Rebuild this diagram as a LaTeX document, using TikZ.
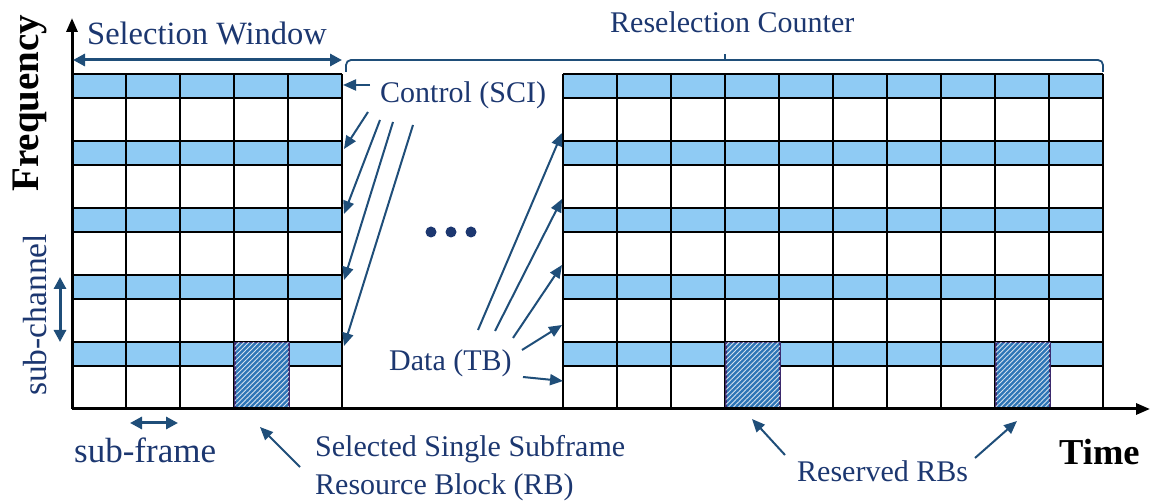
\documentclass[tikz,border=0pt]{standalone}
\usepackage{fontspec}
\setmainfont{Liberation Serif}
\usetikzlibrary{arrows.meta,patterns.meta}
\definecolor{navy}{HTML}{1C3770}
\definecolor{arrowblue}{HTML}{1F4E79}
\definecolor{sciblue}{HTML}{8FCBF4}
\definecolor{rbblue}{HTML}{2E75B6}
\definecolor{rbedge}{HTML}{3B2A6E}
\begin{document}
\begin{tikzpicture}[x=1pt,y=-1pt,
  lbl/.style={text=navy,font=\fontsize{30}{30}\selectfont,inner sep=0pt,anchor=base west},
  callout/.style={draw=arrowblue,line width=2pt,-{Triangle[length=13pt,width=11pt]}},
  dbl/.style={draw=arrowblue,line width=3pt,{Triangle[length=12pt,width=12pt]}-{Triangle[length=12pt,width=12pt]}},
  gridline/.style={line width=2pt,black},
  rbcell/.style={draw=rbedge,line width=1.5pt,fill=rbblue,minimum width=54pt,minimum height=67pt,
    inner sep=0pt,anchor=north west,
    postaction={pattern={Lines[angle=45,distance=3.5pt,line width=0.9pt]},pattern color=white!80!rbblue}},
  axis/.style={line width=3pt,-{Triangle[length=14pt,width=11pt]}},
  bracket/.style={draw=arrowblue,line width=1.8pt,rounded corners=5pt},
  dotmark/.style={circle,fill=navy,inner sep=0pt,minimum size=11pt}]

\useasboundingbox (0,0) rectangle (1152,502);

% control rows (SCI) in both grids
\foreach \gx/\nc in {72/5,563/10}{
  \pgfmathsetmacro\gw{54*\nc}
  \foreach \k in {0,...,4}{
    \fill[sciblue] (\gx,74+67*\k) rectangle ++(\gw,24);
  }
}

% grid lines
\foreach \gx/\nc in {72/5,563/10}{
  \pgfmathsetmacro\gw{54*\nc}
  \foreach \k in {0,...,4}{
    \draw[gridline] (\gx,74+67*\k) -- ++(\gw,0);
    \draw[gridline] (\gx,98+67*\k) -- ++(\gw,0);
  }
  \foreach \i in {0,...,\nc}{
    \draw[gridline] (\gx+54*\i,74) -- (\gx+54*\i,409);
  }
}

% selected / reserved resource blocks
\node[rbcell] (rbsel) at (234,342) {};
\node[rbcell] (rbres1) at (725,342) {};
\node[rbcell] (rbres2) at (995,342) {};

% axes
\coordinate (O) at (72,409);
\coordinate (ytip) at (72,18);
\coordinate (xtip) at (1150,409);
\draw[axis] (O) -- (ytip);
\draw[axis] (O) -- (xtip);

\node[font=\bfseries\fontsize{39}{39}\selectfont,rotate=90,inner sep=0pt] (freq) at (30,103) {Frequency};
\node[font=\bfseries\fontsize{36.5}{36.5}\selectfont,inner sep=0pt,anchor=base west] (time) at (1059,465) {Time};

% selection window
\node[lbl,font=\fontsize{32.5}{32.5}\selectfont] (selwin) at (87,45) {Selection Window};
\coordinate (swl) at (73,60);
\coordinate (swr) at (342,60);
\draw[dbl] (swl) -- (swr);

% reselection counter bracket
\node[lbl] (rescnt) at (610,33) {Reselection Counter};
\coordinate (brl) at (346,72);
\coordinate (brr) at (1103,72);
\coordinate (brm) at (725,60);
\coordinate (brt) at (725,54);
\draw[bracket] (brl) |- (brm) -| (brr);
\draw[draw=arrowblue,line width=1.8pt] (brm) -- (brt);

% control (SCI)
\node[lbl] (ctrl) at (380,103) {Control (SCI)};
\coordinate (c0s) at (370,85);  \coordinate (c0e) at (343,85);
\coordinate (c1s) at (368,112); \coordinate (c1e) at (344,149);
\coordinate (c2s) at (380,120); \coordinate (c2e) at (344,214);
\coordinate (c3s) at (393,122); \coordinate (c3e) at (344,280);
\coordinate (c4s) at (413,125); \coordinate (c4e) at (344,346);
\foreach \n in {0,...,4}{\draw[callout] (c\n s) -- (c\n e);}

% data (TB)
\node[lbl] (data) at (389,371) {Data (TB)};
\coordinate (d1s) at (478,330); \coordinate (d1e) at (562,133);
\coordinate (d2s) at (495,331); \coordinate (d2e) at (562,199);
\coordinate (d3s) at (513,338); \coordinate (d3e) at (562,265);
\coordinate (d4s) at (522,350); \coordinate (d4e) at (562,325);
\coordinate (d5s) at (523,377); \coordinate (d5e) at (563,381);
\foreach \n in {1,...,5}{\draw[callout] (d\n s) -- (d\n e);}

% omitted subframes
\node[dotmark] (dot1) at (431,232) {};
\node[dotmark] (dot2) at (451,232) {};
\node[dotmark] (dot3) at (471,232) {};

% sub-channel and sub-frame
\node[text=navy,font=\fontsize{33.5}{33.5}\selectfont,rotate=90,inner sep=0pt] (subch) at (35,315) {sub-channel};
\coordinate (sct) at (60,277); \coordinate (scb) at (60,342);
\draw[dbl] (sct) -- (scb);
\node[lbl,font=\fontsize{35}{35}\selectfont] (subfr) at (74,463) {sub-frame};
\coordinate (sfl) at (130,423); \coordinate (sfr) at (178,423);
\draw[dbl] (sfl) -- (sfr);

% selected RB
\node[lbl] (selrb1) at (315,457) {Selected Single Subframe};
\node[lbl] (selrb2) at (315,495) {Resource Block (RB)};
\coordinate (srs) at (300,467); \coordinate (sre) at (260,427);
\draw[callout] (srs) -- (sre);

% reserved RBs
\node[lbl] (resrb) at (797,482) {Reserved RBs};
\coordinate (r1s) at (785,455); \coordinate (r1e) at (752,419);
\coordinate (r2s) at (975,458); \coordinate (r2e) at (1017,421);
\draw[callout] (r1s) -- (r1e);
\draw[callout] (r2s) -- (r2e);
\end{tikzpicture}
\end{document}
